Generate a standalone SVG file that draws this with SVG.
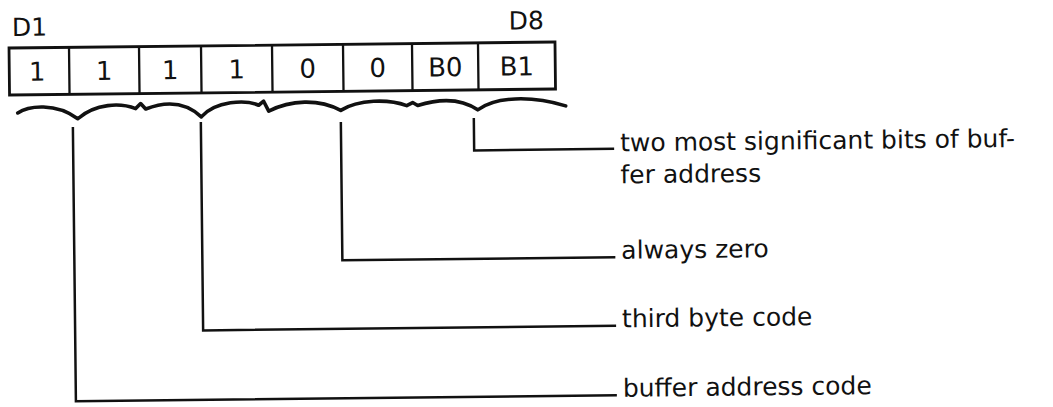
<svg xmlns="http://www.w3.org/2000/svg" width="1053" height="407" viewBox="0 0 1053 407">
<style>
.box{fill:none;stroke:#111;stroke-width:2.8}
.div{stroke:#111;stroke-width:2.3}
.ln{fill:none;stroke:#111;stroke-width:2.5;stroke-linejoin:miter}
.brace{fill:none;stroke:#111;stroke-width:3.6;stroke-linejoin:round;stroke-linecap:round}
.t{font-family:"DejaVu Sans","Liberation Sans",sans-serif;fill:#111}
.cell{font-size:26px;text-anchor:middle}
.hdr{font-size:25px}
.lab{font-size:25px}
</style>
<rect width="1053" height="407" fill="#fff"/>
<g transform="rotate(-0.63 282 45)">
  <g id="header">
    <text class="t hdr" x="12" y="33">D1</text>
    <text class="t hdr" x="544" y="32" text-anchor="end">D8</text>
  </g>
  <g id="register">
    <rect class="box" x="9" y="45" width="546" height="47"/>
    <path class="div" d="M69,45V92M139,45V92M201,45V92M272,45V92M343,45V92M412,45V92M478,45V92"/>
  </g>
  <g id="bit-d1"><text class="t cell" x="37" y="78">1</text></g>
  <g id="bit-d2"><text class="t cell" x="104" y="78">1</text></g>
  <g id="bit-d3"><text class="t cell" x="170" y="78">1</text></g>
  <g id="bit-d4"><text class="t cell" x="236.5" y="78">1</text></g>
  <g id="bit-d5"><text class="t cell" x="307.5" y="78">0</text></g>
  <g id="bit-d6"><text class="t cell" x="377.5" y="78">0</text></g>
  <g id="bit-d7"><text class="t cell" x="445" y="78">B0</text></g>
  <g id="bit-d8"><text class="t cell" x="516.5" y="78">B1</text></g>
  <g id="braces">
    <path class="brace" d="M17,110 C28,103 55,100 77,116.5 C95,101 120,101 135,107 L140,102 L145,107.5 C165,100 185,101 200.5,116 C215,100 245,99 258,105 L263,101 L268,111 C290,100 318,99 340,111 C358,100 388,100 406,107 L412,104 L417,107 C440,100 460,100 477,112 C495,99 530,98 565,109"/>
  </g>
  <g id="connectors">
    <path class="ln" d="M473,120V152.5H613"/>
    <path class="ln" d="M340,122.6V261H613"/>
    <path class="ln" d="M200,121V329.5H613"/>
    <path class="ln" d="M72,124.7V399H613"/>
  </g>
  <g id="label-msb">
    <text class="t lab" x="619" y="155">two most significant bits of buf-</text>
    <text class="t lab" x="619" y="187">fer address</text>
  </g>
  <g id="label-zero"><text class="t lab" x="619" y="262.5">always zero</text></g>
  <g id="label-third"><text class="t lab" x="619" y="331">third byte code</text></g>
  <g id="label-buffer"><text class="t lab" x="619" y="400.5">buffer address code</text></g>
</g>
</svg>
